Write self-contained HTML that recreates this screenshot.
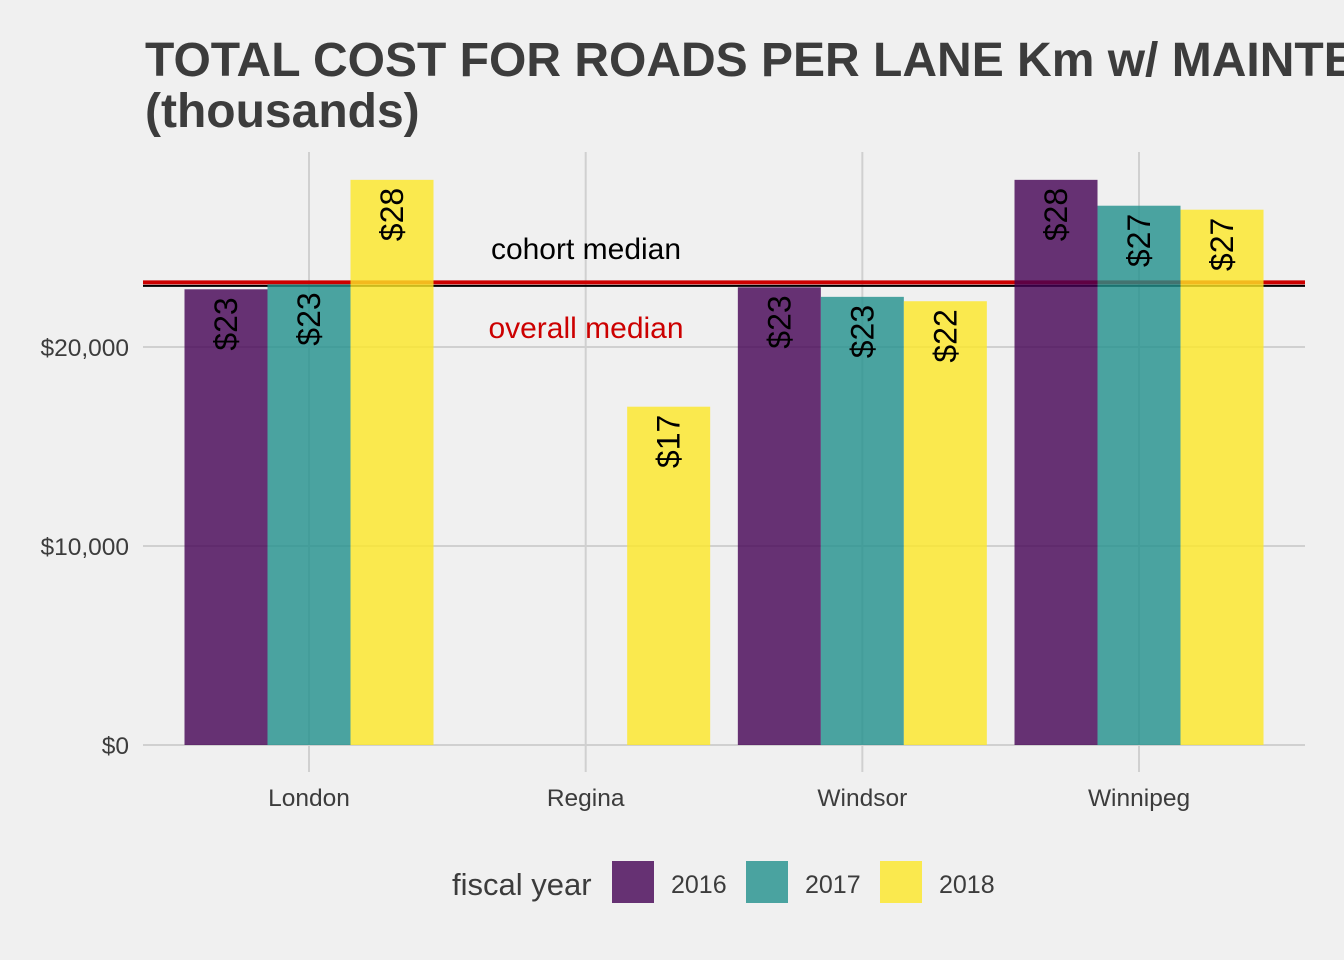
<!DOCTYPE html>
<html><head><meta charset="utf-8"><style>
body{margin:0;background:#f0f0f0;}
svg{display:block;font-family:"Liberation Sans",Arial,sans-serif;}
</style></head><body>
<svg id="chart" width="1344" height="960">
<rect width="1344" height="960" fill="#f0f0f0"/>
<text x="145" y="76" font-size="48" font-weight="bold" fill="#3c3c3c">TOTAL COST FOR ROADS PER LANE Km w/ MAINTENANCE</text>
<text x="145" y="127" font-size="48" font-weight="bold" fill="#3c3c3c">(thousands)</text>
<g id="grid"></g><g id="lines"></g><g id="bars"></g><g id="labels"></g><g id="axes"></g>
<g>
<text x="452" y="895" font-size="31" fill="#3c3c3c">fiscal year</text>
<rect x="612" y="861" width="42" height="42" fill="#440154" fill-opacity="0.8"/>
<text x="671" y="893" font-size="25" fill="#3c3c3c">2016</text>
<rect x="746" y="861" width="42" height="42" fill="#21908C" fill-opacity="0.8"/>
<text x="805" y="893" font-size="25" fill="#3c3c3c">2017</text>
<rect x="880" y="861" width="42" height="42" fill="#FDE725" fill-opacity="0.8"/>
<text x="939" y="893" font-size="25" fill="#3c3c3c">2018</text>
</g>
</svg>
<script>
const categories=["London","Regina","Windsor","Winnipeg"];
const years=["2016","2017","2018"];
const v2016=[22900,null,23000,28400];
const v2017=[23150,null,22520,27100];
const v2018=[28400,17000,22300,26900];
const yTicks=[0,10000,20000];
const yTickLabels=["$0","$10,000","$20,000"];
const cohortMedian=23070;
const overallMedian=23250;

const NS="http://www.w3.org/2000/svg";
const colors=["#440154","#21908C","#FDE725"];
const x0=143,x1=1305,y0=745,pxPer=199/10000;
const yS=v=>y0-v*pxPer;
const step=276.67;
const xC=i=>309+step*i;
const bw=83;
function mk(tag,attrs,parent){const e=document.createElementNS(NS,tag);for(const k in attrs)e.setAttribute(k,attrs[k]);document.getElementById(parent).appendChild(e);return e;}
yTicks.forEach((t,i)=>{
 const l=mk("line",{x1:x0,x2:x1,y1:yS(t),y2:yS(t),stroke:"#d0d0d0","stroke-width":2},"grid");
 
 
 const tx=mk("text",{x:129,y:yS(t)+9,"text-anchor":"end","font-size":24.5,fill:"#3c3c3c"},"axes");
 tx.textContent=yTickLabels[i];
 
 
});
categories.forEach((c,i)=>{
 const l=mk("line",{x1:xC(i),x2:xC(i),y1:152,y2:772,stroke:"#d0d0d0","stroke-width":2},"grid");
 
 
 const tx=mk("text",{x:xC(i),y:806,"text-anchor":"middle","font-size":24.5,fill:"#3c3c3c"},"axes");
 tx.textContent=c;
 
 
});
let ml=mk("line",{x1:x0,x2:x1,y1:yS(overallMedian),y2:yS(overallMedian),stroke:"#cc0000","stroke-width":4},"lines");


ml=mk("line",{x1:x0,x2:x1,y1:yS(cohortMedian),y2:yS(cohortMedian),stroke:"#000","stroke-width":2},"lines");


let t=mk("text",{x:586,y:259,"text-anchor":"middle","font-size":30,fill:"#000"},"labels");
t.textContent="cohort median";


t=mk("text",{x:586,y:338,"text-anchor":"middle","font-size":30,fill:"#cc0000"},"labels");
t.textContent="overall median";


[v2016,v2017,v2018].forEach((series,s)=>{
 series.forEach((v,i)=>{
  if(v==null)return;
  const x=xC(i)+(s-1.5)*bw;
  const r=mk("rect",{x:x,y:yS(v),width:bw,height:y0-yS(v),fill:colors[s],"fill-opacity":0.8},"bars");
  
  
  const cx=x+bw/2+11,ty=yS(v)+8;
  const lb=mk("text",{x:cx,y:ty,"text-anchor":"end","font-size":32,fill:"#000",transform:`rotate(-90 ${cx} ${ty})`},"labels");
  lb.textContent="$"+Math.round(v/1000);
  
  
 });
});
</script>
</body></html>
